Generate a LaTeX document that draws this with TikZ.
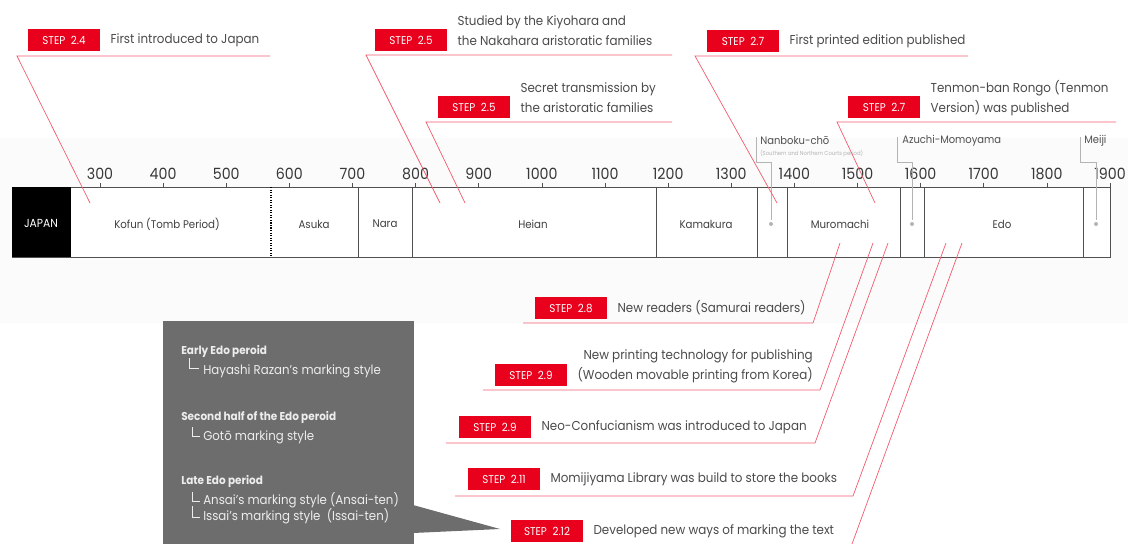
\documentclass[tikz,border=0pt]{standalone}
\usepackage{fontspec}
\setmainfont{Poppins}[FakeStretch=0.92]
\usetikzlibrary{positioning}
\definecolor{stepred}{HTML}{E8001C}
\definecolor{leadred}{HTML}{F25C6E}
\definecolor{txtgray}{HTML}{4A4A4A}
\definecolor{boxgray}{HTML}{6D6D6D}
\definecolor{bargray}{HTML}{505050}
\definecolor{markgray}{HTML}{B4B4B4}
\definecolor{edotxt}{HTML}{EDEDED}
\tikzset{
  stepbox/.style={fill=stepred,text=white,minimum width=1.8cm,minimum height=0.55cm,inner sep=0pt,font=\fontsize{8}{9}\selectfont},
  note/.style={text=txtgray,inner sep=0pt,align=left,font=\fontsize{9.2}{14.2}\selectfont},
  leader/.style={leadred,line width=0.5pt},
  period/.style={text=bargray!80!black,font=\fontsize{7.9}{9}\selectfont},
  year/.style={text=bargray!70!black,font=\fontsize{11}{13}\selectfont},
  era/.style={anchor=west,inner sep=0pt,text=bargray,font=\fontsize{7.7}{9}\selectfont},
  edohead/.style={anchor=west,inner sep=0pt,text=edotxt,font=\bfseries\fontsize{8.1}{9}\selectfont},
  edoitem/.style={anchor=west,inner sep=0pt,text=edotxt,font=\fontsize{9.1}{10}\selectfont}
}
\begin{document}
\begin{tikzpicture}[x=0.025cm,y=-0.025cm]
\useasboundingbox (0,0) rectangle (1128,544);
\fill[black!1.5] (0,138) rectangle (1128,323);

\draw[bargray,fill=white] (12,187) rectangle (1110,257);
\fill[black] (12,187) rectangle (71,257);
\node[text=white,font=\fontsize{8.3}{9}\selectfont] (japan) at (41,223) {JAPAN};
\foreach \x in {358,412,656,757,787,900,924,1083} \draw[bargray] (\x,187)--(\x,257);
\draw[black,line width=0.8pt,densely dotted] (271,187)--(271,257);
\foreach \yr [count=\i from 0] in {300,400,...,1900}
  {\draw[bargray] (100+63.125*\i,183)--(100+63.125*\i,187);
   \node[year] (y\i) at (100+63.125*\i,174) {\yr};}
\foreach \x/\p [count=\i] in {167/Kofun (Tomb Period),314/Asuka,385/Nara,533/Heian,706/Kamakura,840/Muromachi,1002/Edo}
  \node[period] (p\i) at (\x,224) {\p};

\foreach \x/\l/\n in {771/756/nb,912/897/az,1096/1080/mj}
  {\coordinate (d\n) at (\x,224); \coordinate (t\n) at (\l,137);
   \fill[markgray] (d\n) circle (2);
   \draw[markgray,line width=0.4pt] (t\n) |- (\x,162) -- ([yshift=3]d\n);}
\node[era] (nb) at (760,141) {Nanboku-chō};
\node[era,text=markgray,font=\fontsize{4.1}{5}\selectfont] (nbsub) at (760,154) {(Southern and Northern Courts period)};
\node[era] (az) at (902,141) {Azuchi-Momoyama};
\node[era] (mj) at (1084,141) {Meiji};

\node[stepbox] (s24) at (64,40) {STEP\enspace 2.4};
\node[note,right=0.25cm of s24] (n24) {First introduced to Japan};
\coordinate (a24) at (270,56); \coordinate (b24) at (17,56); \coordinate (c24) at (90,203);
\draw[leader] (a24) -- (b24) -- (c24);

\node[stepbox] (s25a) at (411,40) {STEP\enspace 2.5};
\node[note,right=0.25cm of s25a,yshift=0.225cm] (n25a) {Studied by the Kiyohara and\\the Nakahara aristoratic families};
\coordinate (a25a) at (672,55); \coordinate (b25a) at (366,55); \coordinate (c25a) at (440,203);
\draw[leader] (a25a) -- (b25a) -- (c25a);

\node[stepbox] (s25b) at (474,107) {STEP\enspace 2.5};
\node[note,right=0.25cm of s25b,yshift=0.225cm] (n25b) {Secret transmission by\\the aristoratic families};
\coordinate (a25b) at (672,122); \coordinate (b25b) at (426,122); \coordinate (c25b) at (465,203);
\draw[leader] (a25b) -- (b25b) -- (c25b);

\node[stepbox] (s27a) at (743,41) {STEP\enspace 2.7};
\node[note,right=0.25cm of s27a] (n27a) {First printed edition published};
\coordinate (a27a) at (968,56); \coordinate (b27a) at (695,56); \coordinate (c27a) at (777,203);
\draw[leader] (a27a) -- (b27a) -- (c27a);

\node[stepbox] (s27b) at (884,107) {STEP\enspace 2.7};
\node[note,right=0.25cm of s27b,yshift=0.225cm] (n27b) {Tenmon-ban Rongo (Tenmon\\Version) was published};
\coordinate (a27b) at (1116,122); \coordinate (b27b) at (837,122); \coordinate (c27b) at (875,203);
\draw[leader] (a27b) -- (b27b) -- (c27b);

\node[stepbox] (s28) at (571,308) {STEP\enspace 2.8};
\node[note,right=0.25cm of s28] (n28) {New readers (Samurai readers)};
\coordinate (a28) at (523,323); \coordinate (b28) at (813,323); \coordinate (c28) at (840,243);
\draw[leader] (a28) -- (b28) -- (c28);

\node[stepbox] (s29a) at (531,375) {STEP\enspace 2.9};
\node[note,align=right,right=0.25cm of s29a,yshift=0.225cm] (n29a) {New printing technology for publishing\\(Wooden movable printing from Korea)};
\coordinate (a29a) at (483,390); \coordinate (b29a) at (820,390); \coordinate (c29a) at (873,243);
\draw[leader] (a29a) -- (b29a) -- (c29a);

\node[stepbox] (s29b) at (495,427) {STEP\enspace 2.9};
\node[note,right=0.25cm of s29b] (n29b) {Neo-Confucianism was introduced to Japan};
\coordinate (a29b) at (446,443); \coordinate (b29b) at (815,443); \coordinate (c29b) at (888,243);
\draw[leader] (a29b) -- (b29b) -- (c29b);

\node[stepbox] (s211) at (504,479) {STEP\enspace 2.11};
\node[note,right=0.25cm of s211] (n211) {Momijiyama Library was build to store the books};
\coordinate (a211) at (455,496); \coordinate (b211) at (853,496); \coordinate (c211) at (946,243);
\draw[leader] (a211) -- (b211) -- (c211);

\node[stepbox] (s212) at (547,531) {STEP\enspace 2.12};
\node[note,right=0.25cm of s212] (n212) {Developed new ways of marking the text};
\coordinate (b212) at (852,544); \coordinate (c212) at (962,243);
\draw[leader] (b212) -- (c212);

\fill[boxgray] (163,321) rectangle (414,544);
\fill[boxgray] (413,505) -- (500,529) -- (413,533) -- cycle;
\node[edohead] (h1) at (181,351) {Early Edo peroid};
\node[edoitem] (i1) at (203,371) {Hayashi Razan's marking style};
\node[edohead] (h2) at (181,417) {Second half of the Edo peroid};
\node[edoitem] (i2) at (203,437) {Gotō marking style};
\node[edohead] (h3) at (181,481) {Late Edo period};
\node[edoitem] (i3) at (203,500) {Ansai's marking style (Ansai-ten)};
\node[edoitem] (i4) at (203,516) {Issai's marking style\ \ (Issai-ten)};
\draw[edotxt,line width=0.4pt] (189,358) |- (199,368);
\draw[edotxt,line width=0.4pt] (192,427) |- (200,436);
\draw[edotxt,line width=0.4pt] (192,492) |- (200,501);
\draw[edotxt,line width=0.4pt] (192,506) |- (200,517);
\end{tikzpicture}
\end{document}
